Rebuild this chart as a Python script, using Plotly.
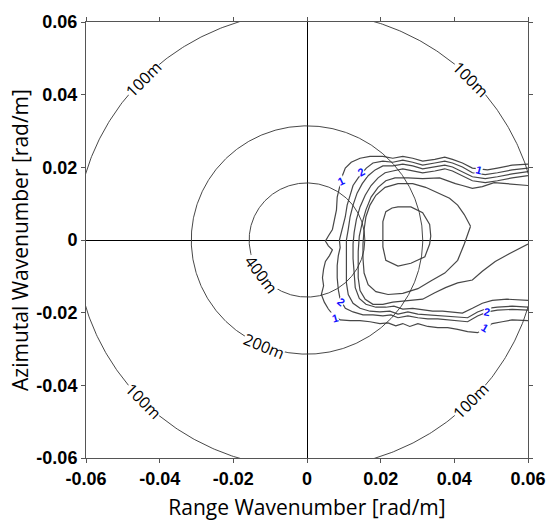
import numpy as np
import plotly.graph_objects as go

# ---- axes ------------------------------------------------------------------
tick_vals = [-0.06, -0.04, -0.02, 0.0, 0.02, 0.04, 0.06]
tick_text = ["-0.06", "-0.04", "-0.02", "0", "0.02", "0.04", "0.06"]
x_title = "Range Wavenumber [rad/m]"
y_title = "Azimutal Wavenumber [rad/m]"

# ---- reference wavelength rings |k| = 2*pi/lambda ---------------------------
ring_wavelengths = [100, 200, 400]                 # m
ring_label_wavelength = [100, 100, 100, 100, 200, 400]
ring_label_angle_deg = [135, 45, -135, -45, -112, -143]

# ---- spectrum contour lines (range / azimuth wavenumber, rad/m) -------------
level1_x = [0.0600, 0.0557, 0.0517, 0.0490, 0.0449, 0.0422, 0.0395, 0.0374, 0.0347, 0.0314,
            0.0287, 0.0260, 0.0233, 0.0206, 0.0171, 0.0144, 0.0120, 0.0104, 0.0096, 0.0088,
            0.0082, 0.0080, 0.0074, 0.0069, 0.0058, 0.0050, 0.0058, 0.0069, 0.0061, 0.0050,
            0.0045, 0.0042, 0.0045, 0.0039, 0.0047, 0.0058, 0.0069, 0.0090, 0.0117, 0.0144,
            0.0171, 0.0198, 0.0220, 0.0241, 0.0260, 0.0279, 0.0301, 0.0328, 0.0355, 0.0382,
            0.0409, 0.0436, 0.0463, 0.0503, 0.0530, 0.0557, 0.0600]
level1_y = [0.0209, 0.0206, 0.0198, 0.0193, 0.0198, 0.0212, 0.0222, 0.0228, 0.0222, 0.0217,
            0.0225, 0.0230, 0.0225, 0.0230, 0.0230, 0.0225, 0.0214, 0.0198, 0.0177, 0.0145,
            0.0118, 0.0083, 0.0056, 0.0029, 0.0011, -0.0003, -0.0016, -0.0027, -0.0043, -0.0059,
            -0.0080, -0.0104, -0.0126, -0.0150, -0.0171, -0.0190, -0.0204, -0.0220, -0.0222, -0.0222,
            -0.0225, -0.0230, -0.0228, -0.0236, -0.0230, -0.0238, -0.0230, -0.0238, -0.0241, -0.0241,
            -0.0246, -0.0252, -0.0255, -0.0230, -0.0225, -0.0220, -0.0222]

level2_x = [0.0600, 0.0557, 0.0517, 0.0484, 0.0449, 0.0422, 0.0395, 0.0374, 0.0347, 0.0314,
            0.0287, 0.0260, 0.0233, 0.0206, 0.0179, 0.0161, 0.0139, 0.0125, 0.0117, 0.0109,
            0.0104, 0.0098, 0.0093, 0.0088, 0.0090, 0.0085, 0.0082, 0.0082, 0.0085, 0.0090,
            0.0104, 0.0125, 0.0152, 0.0179, 0.0206, 0.0228, 0.0247, 0.0274, 0.0301, 0.0328,
            0.0355, 0.0382, 0.0409, 0.0436, 0.0463, 0.0490, 0.0517, 0.0557, 0.0600]
level2_y = [0.0198, 0.0193, 0.0185, 0.0180, 0.0185, 0.0201, 0.0212, 0.0217, 0.0212, 0.0206,
            0.0214, 0.0220, 0.0214, 0.0217, 0.0212, 0.0198, 0.0171, 0.0150, 0.0123, 0.0096,
            0.0064, 0.0038, 0.0021, 0.0000, -0.0021, -0.0043, -0.0070, -0.0104, -0.0137, -0.0163,
            -0.0188, -0.0198, -0.0206, -0.0206, -0.0209, -0.0206, -0.0214, -0.0209, -0.0214, -0.0217,
            -0.0217, -0.0220, -0.0222, -0.0225, -0.0209, -0.0198, -0.0193, -0.0191, -0.0193]

level3_x = [0.0600, 0.0557, 0.0517, 0.0484, 0.0449, 0.0422, 0.0395, 0.0374, 0.0347, 0.0314,
            0.0287, 0.0260, 0.0233, 0.0206, 0.0185, 0.0166, 0.0150, 0.0136, 0.0125, 0.0117,
            0.0112, 0.0107, 0.0107, 0.0107, 0.0107, 0.0112, 0.0125, 0.0144, 0.0171, 0.0198,
            0.0225, 0.0247, 0.0274, 0.0301, 0.0328, 0.0355, 0.0382, 0.0409, 0.0436, 0.0463,
            0.0490, 0.0517, 0.0557, 0.0600]
level3_y = [0.0188, 0.0182, 0.0174, 0.0169, 0.0174, 0.0188, 0.0201, 0.0206, 0.0201, 0.0196,
            0.0204, 0.0209, 0.0204, 0.0204, 0.0193, 0.0177, 0.0155, 0.0129, 0.0096, 0.0064,
            0.0029, 0.0000, -0.0038, -0.0078, -0.0118, -0.0150, -0.0174, -0.0188, -0.0196, -0.0198,
            -0.0196, -0.0204, -0.0198, -0.0204, -0.0206, -0.0206, -0.0209, -0.0212, -0.0214, -0.0198,
            -0.0188, -0.0185, -0.0182, -0.0185]

level4_x = [0.0600, 0.0557, 0.0517, 0.0484, 0.0449, 0.0422, 0.0395, 0.0374, 0.0347, 0.0314,
            0.0287, 0.0260, 0.0233, 0.0212, 0.0193, 0.0174, 0.0158, 0.0144, 0.0134, 0.0128,
            0.0125, 0.0125, 0.0128, 0.0131, 0.0142, 0.0160, 0.0187, 0.0214, 0.0236, 0.0260,
            0.0287, 0.0314, 0.0341, 0.0368, 0.0395, 0.0422, 0.0449, 0.0476, 0.0503, 0.0543,
            0.0600]
level4_y = [0.0177, 0.0171, 0.0163, 0.0158, 0.0163, 0.0177, 0.0190, 0.0196, 0.0190, 0.0185,
            0.0190, 0.0196, 0.0190, 0.0185, 0.0171, 0.0150, 0.0123, 0.0091, 0.0056, 0.0021,
            -0.0011, -0.0051, -0.0091, -0.0131, -0.0161, -0.0177, -0.0185, -0.0185, -0.0182, -0.0190,
            -0.0188, -0.0193, -0.0196, -0.0196, -0.0198, -0.0201, -0.0188, -0.0174, -0.0166, -0.0163,
            -0.0166]

level5_x = [0.0600, 0.0557, 0.0508, 0.0476, 0.0449, 0.0422, 0.0403, 0.0360, 0.0314, 0.0274,
            0.0239, 0.0214, 0.0193, 0.0174, 0.0160, 0.0150, 0.0142, 0.0139, 0.0139, 0.0139,
            0.0144, 0.0158, 0.0179, 0.0206, 0.0233, 0.0274, 0.0314, 0.0347, 0.0376, 0.0409,
            0.0449, 0.0476, 0.0511, 0.0549, 0.0600]
level5_y = [0.0150, 0.0153, 0.0158, 0.0147, 0.0142, 0.0150, 0.0155, 0.0171, 0.0169, 0.0171,
            0.0171, 0.0163, 0.0145, 0.0118, 0.0083, 0.0048, 0.0011, -0.0032, -0.0070, -0.0104,
            -0.0139, -0.0163, -0.0177, -0.0177, -0.0171, -0.0166, -0.0163, -0.0145, -0.0131, -0.0118,
            -0.0110, -0.0086, -0.0059, -0.0038, -0.0011]

level6_x = [0.0444, 0.0427, 0.0409, 0.0374, 0.0336, 0.0301, 0.0260, 0.0220, 0.0187, 0.0166,
            0.0155, 0.0152, 0.0152, 0.0155, 0.0160, 0.0171, 0.0187, 0.0212, 0.0247, 0.0287,
            0.0322, 0.0355, 0.0387, 0.0409, 0.0427, 0.0444]
level6_y = [0.0038, -0.0011, -0.0056, -0.0091, -0.0113, -0.0134, -0.0147, -0.0150, -0.0142, -0.0123,
            -0.0091, -0.0051, -0.0011, 0.0029, 0.0064, 0.0096, 0.0123, 0.0145, 0.0155, 0.0155,
            0.0145, 0.0129, 0.0115, 0.0096, 0.0070, 0.0038]

level7_x = [0.0206, 0.0206, 0.0214, 0.0231, 0.0247, 0.0282, 0.0314, 0.0333, 0.0336, 0.0333,
            0.0320, 0.0282, 0.0247, 0.0214, 0.0206, 0.0206]
level7_y = [0.0016, 0.0051, 0.0078, 0.0088, 0.0091, 0.0091, 0.0075, 0.0043, 0.0011, -0.0011,
            -0.0046, -0.0064, -0.0072, -0.0056, -0.0019, 0.0016]

contour_lines = [(level1_x, level1_y), (level2_x, level2_y), (level3_x, level3_y),
                 (level4_x, level4_y), (level5_x, level5_y), (level6_x, level6_y),
                 (level7_x, level7_y)]

# contour level labels
label_text = ["1", "2", "1", "2", "1", "2", "1"]
label_x = [0.0093, 0.0147, 0.0468, 0.0093, 0.0077, 0.0490, 0.0484]
label_y = [0.0163, 0.0188, 0.0193, -0.0171, -0.0214, -0.0198, -0.0241]
label_angle = [-25, -30, 15, 40, -15, 10, 30]

# ---- figure ------------------------------------------------------------------
fig = go.Figure()

for xs, ys in contour_lines:
    fig.add_trace(go.Scatter(x=xs, y=ys, mode="lines",
                             line=dict(color="#474747", width=1.2),
                             hoverinfo="skip", showlegend=False))

theta = np.linspace(0.0, 2.0 * np.pi, 721)
for lam in ring_wavelengths:
    k = 2.0 * np.pi / lam
    fig.add_trace(go.Scatter(x=k * np.cos(theta), y=k * np.sin(theta), mode="lines",
                             line=dict(color="#333333", width=0.9),
                             hoverinfo="skip", showlegend=False))

annotations = []
for lam, ang in zip(ring_label_wavelength, ring_label_angle_deg):
    k = 2.0 * np.pi / lam
    a = np.deg2rad(ang)
    tangent = (ang + 90.0 + 90.0) % 180.0 - 90.0
    annotations.append(dict(
        x=k * np.cos(a), y=k * np.sin(a), xref="x", yref="y",
        text=f"{lam}m", showarrow=False, textangle=-tangent,
        font=dict(family="Open Sans", size=16, color="black"),
        bgcolor="white", borderpad=0))

for t, lx, ly, la in zip(label_text, label_x, label_y, label_angle):
    annotations.append(dict(
        x=lx, y=ly, xref="x", yref="y", text=t, showarrow=False, textangle=la,
        font=dict(family="Liberation Sans", size=11, color="#1010ff", weight="bold"),
        bgcolor="white", borderpad=0))

tick_font = dict(family="Liberation Sans", size=18, color="black", weight="bold")
title_font = dict(family="Open Sans", size=21, color="black")
axis_common = dict(
    range=[-0.06, 0.06], tickmode="array", tickvals=tick_vals, ticktext=tick_text,
    ticks="outside", ticklen=4, tickcolor="#555555", tickwidth=1,
    showline=True, linecolor="#555555", linewidth=1, mirror="ticks",
    showgrid=False, zeroline=True, zerolinecolor="black", zerolinewidth=1,
    tickfont=tick_font,
)

fig.update_xaxes(**axis_common, title=dict(text=x_title, font=title_font, standoff=12))
fig.update_yaxes(**axis_common, title=dict(text=y_title, font=title_font, standoff=2))

fig.update_layout(
    width=558, height=527,
    margin=dict(l=86, r=27, t=12, b=67),
    paper_bgcolor="white", plot_bgcolor="white",
    showlegend=False, annotations=annotations,
)

fig.write_html("out.html")
